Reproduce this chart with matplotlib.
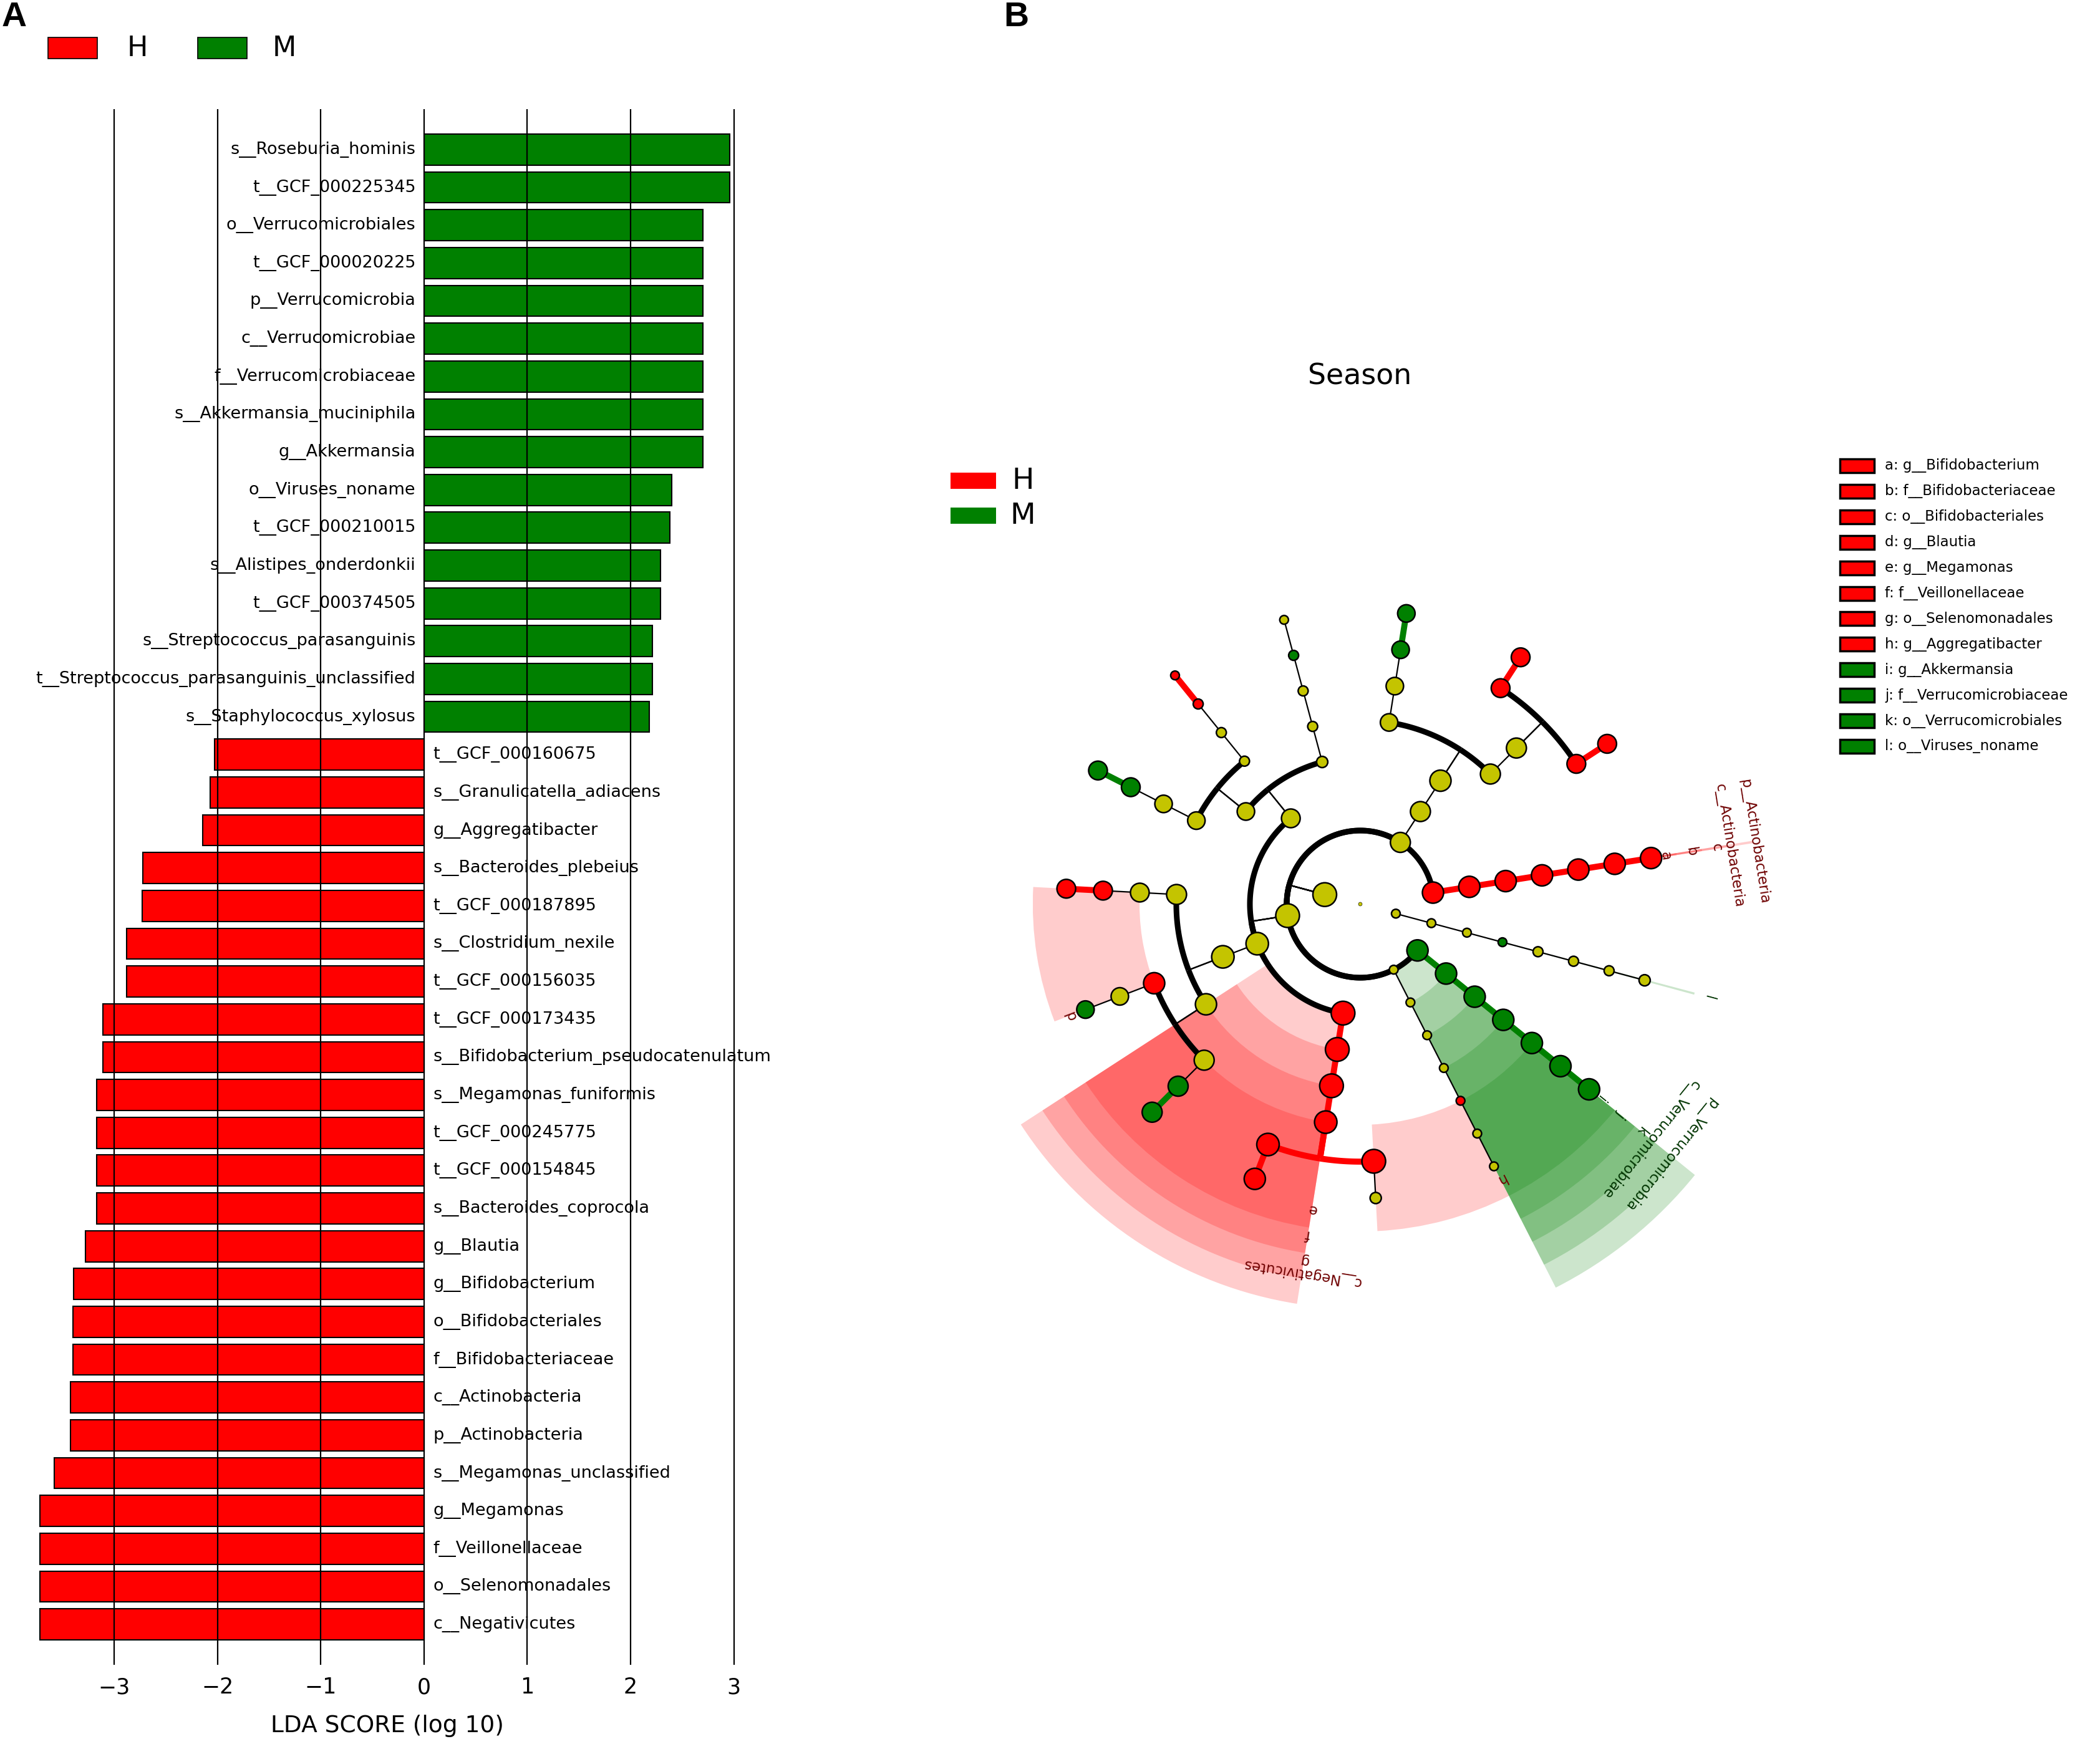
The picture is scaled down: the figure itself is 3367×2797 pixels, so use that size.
import numpy as np
import matplotlib.pyplot as plt
from matplotlib.patches import Rectangle

# ---------------- panel A : LDA scores ----------------
taxa = [
    's__Roseburia_hominis', 't__GCF_000225345', 'o__Verrucomicrobiales', 't__GCF_000020225',
    'p__Verrucomicrobia', 'c__Verrucomicrobiae', 'f__Verrucomicrobiaceae', 's__Akkermansia_muciniphila',
    'g__Akkermansia', 'o__Viruses_noname', 't__GCF_000210015', 's__Alistipes_onderdonkii',
    't__GCF_000374505', 's__Streptococcus_parasanguinis', 't__Streptococcus_parasanguinis_unclassified',
    's__Staphylococcus_xylosus',
    't__GCF_000160675', 's__Granulicatella_adiacens', 'g__Aggregatibacter', 's__Bacteroides_plebeius',
    't__GCF_000187895', 's__Clostridium_nexile', 't__GCF_000156035', 't__GCF_000173435',
    's__Bifidobacterium_pseudocatenulatum', 's__Megamonas_funiformis', 't__GCF_000245775',
    't__GCF_000154845', 's__Bacteroides_coprocola', 'g__Blautia', 'g__Bifidobacterium',
    'o__Bifidobacteriales', 'f__Bifidobacteriaceae', 'c__Actinobacteria', 'p__Actinobacteria',
    's__Megamonas_unclassified', 'g__Megamonas', 'f__Veillonellaceae', 'o__Selenomonadales',
    'c__Negativicutes',
]
lda = [2.96, 2.96, 2.70, 2.70, 2.70, 2.70, 2.70, 2.70, 2.70, 2.40, 2.38, 2.29, 2.29, 2.21, 2.21, 2.18,
       -2.03, -2.07, -2.14, -2.72, -2.73, -2.88, -2.88, -3.11, -3.11, -3.17, -3.17, -3.17, -3.17,
       -3.28, -3.39, -3.40, -3.40, -3.42, -3.42, -3.58, -3.72, -3.72, -3.72, -3.72]
x_ticks = [-3, -2, -1, 0, 1, 2, 3]

# ---------------- panel B : cladogram ----------------
# parents are listed before their children, leaves in order around the circle
clade_names = [
    'root', 'k__Bacteria',
    'p__Actinobacteria', 'c__Actinobacteria', 'o__Bifidobacteriales', 'f__Bifidobacteriaceae',
    'g__Bifidobacterium', 's__Bifidobacterium_pseudocatenulatum', 't__GCF_000173435',
    'p__Bacteroidetes', 'c__Bacteroidia', 'o__Bacteroidales', 'f__Bacteroidaceae', 'g__Bacteroides',
    's__Bacteroides_plebeius', 't__GCF_000187895', 's__Bacteroides_coprocola', 't__GCF_000154845',
    'f__Rikenellaceae', 'g__Alistipes', 's__Alistipes_onderdonkii', 't__GCF_000374505',
    'p__Firmicutes', 'c__Bacilli', 'o__Bacillales', 'f__Staphylococcaceae', 'g__Staphylococcus',
    's__Staphylococcus_xylosus', 't__Staphylococcus_xylosus_unclassified',
    'o__Lactobacillales', 'f__Carnobacteriaceae', 'g__Granulicatella', 's__Granulicatella_adiacens',
    't__GCF_000160675', 'f__Streptococcaceae', 'g__Streptococcus', 's__Streptococcus_parasanguinis',
    't__Streptococcus_parasanguinis_unclassified',
    'c__Clostridia', 'o__Clostridiales', 'f__Clostridiaceae', 'g__Clostridium', 's__Clostridium_nexile',
    't__GCF_000156035', 'f__Lachnospiraceae', 'g__Blautia', 's__Blautia_unclassified',
    't__GCF_000210015', 'g__Roseburia', 's__Roseburia_hominis', 't__GCF_000225345',
    'c__Negativicutes', 'o__Selenomonadales', 'f__Veillonellaceae', 'g__Megamonas',
    's__Megamonas_funiformis', 't__GCF_000245775', 's__Megamonas_unclassified',
    't__Megamonas_unclassified',
    'p__Proteobacteria', 'c__Gammaproteobacteria', 'o__Pasteurellales', 'f__Pasteurellaceae',
    'g__Aggregatibacter', 's__Aggregatibacter_unclassified', 't__Aggregatibacter_unclassified',
    'p__Verrucomicrobia', 'c__Verrucomicrobiae', 'o__Verrucomicrobiales', 'f__Verrucomicrobiaceae',
    'g__Akkermansia', 's__Akkermansia_muciniphila', 't__GCF_000020225',
    'k__Viruses', 'p__Viruses_noname', 'c__Viruses_noname', 'o__Viruses_noname', 'f__Viruses_noname',
    'g__Viruses_noname', 's__Viruses_noname_sp', 't__Viruses_noname_sp',
]
clade_parents = [
    None, 'root',
    'k__Bacteria', 'p__Actinobacteria', 'c__Actinobacteria', 'o__Bifidobacteriales',
    'f__Bifidobacteriaceae', 'g__Bifidobacterium', 's__Bifidobacterium_pseudocatenulatum',
    'k__Bacteria', 'p__Bacteroidetes', 'c__Bacteroidia', 'o__Bacteroidales', 'f__Bacteroidaceae',
    'g__Bacteroides', 's__Bacteroides_plebeius', 'g__Bacteroides', 's__Bacteroides_coprocola',
    'o__Bacteroidales', 'f__Rikenellaceae', 'g__Alistipes', 's__Alistipes_onderdonkii',
    'k__Bacteria', 'p__Firmicutes', 'c__Bacilli', 'o__Bacillales', 'f__Staphylococcaceae',
    'g__Staphylococcus', 's__Staphylococcus_xylosus',
    'c__Bacilli', 'o__Lactobacillales', 'f__Carnobacteriaceae', 'g__Granulicatella',
    's__Granulicatella_adiacens', 'o__Lactobacillales', 'f__Streptococcaceae', 'g__Streptococcus',
    's__Streptococcus_parasanguinis',
    'p__Firmicutes', 'c__Clostridia', 'o__Clostridiales', 'f__Clostridiaceae', 'g__Clostridium',
    's__Clostridium_nexile', 'o__Clostridiales', 'f__Lachnospiraceae', 'g__Blautia',
    's__Blautia_unclassified', 'f__Lachnospiraceae', 'g__Roseburia', 's__Roseburia_hominis',
    'p__Firmicutes', 'c__Negativicutes', 'o__Selenomonadales', 'f__Veillonellaceae',
    'g__Megamonas', 's__Megamonas_funiformis', 'g__Megamonas', 's__Megamonas_unclassified',
    'k__Bacteria', 'p__Proteobacteria', 'c__Gammaproteobacteria', 'o__Pasteurellales',
    'f__Pasteurellaceae', 'g__Aggregatibacter', 's__Aggregatibacter_unclassified',
    'k__Bacteria', 'p__Verrucomicrobia', 'c__Verrucomicrobiae', 'o__Verrucomicrobiales',
    'f__Verrucomicrobiaceae', 'g__Akkermansia', 's__Akkermansia_muciniphila',
    'root', 'k__Viruses', 'p__Viruses_noname', 'c__Viruses_noname', 'o__Viruses_noname',
    'f__Viruses_noname', 'g__Viruses_noname', 's__Viruses_noname_sp',
]
# enriched group of each clade ('' = not significant)
clade_groups = [
    '', '',
    'H', 'H', 'H', 'H', 'H', 'H', 'H',
    '', '', '', '', '', 'H', 'H', 'H', 'H', '', '', 'M', 'M',
    '', '', '', '', '', 'M', '', '', '', '', 'H', 'H', '', '', 'M', 'M',
    '', '', '', '', 'H', 'H', '', 'H', '', 'M', '', 'M', 'M',
    'H', 'H', 'H', 'H', 'H', 'H', 'H', '',
    '', '', '', '', 'H', '', '',
    'M', 'M', 'M', 'M', 'M', 'M', 'M',
    '', '', '', 'M', '', '', '', '',
]
# node size (abundance), read from the circles
clade_sizes = [
    3, 19,
    17, 17, 17, 17, 17, 17, 17,
    16, 16, 17, 16, 16, 15, 15, 15, 15, 14, 14, 14, 14,
    19, 15, 9, 8, 8, 8, 7, 14, 8, 8, 8, 7, 14, 14, 15, 15,
    18, 18, 16, 15, 15, 15, 17, 17, 14, 14, 16, 16, 16,
    19, 19, 19, 18, 18, 17, 19, 9,
    7, 7, 7, 7, 7, 7, 7,
    17, 17, 17, 17, 17, 17, 17,
    7, 7, 7, 7, 8, 8, 8, 9,
]
key_letters = ['a', 'b', 'c', 'd', 'e', 'f', 'g', 'h', 'i', 'j', 'k', 'l']
key_clades = ['g__Bifidobacterium', 'f__Bifidobacteriaceae', 'o__Bifidobacteriales', 'g__Blautia',
              'g__Megamonas', 'f__Veillonellaceae', 'o__Selenomonadales', 'g__Aggregatibacter',
              'g__Akkermansia', 'f__Verrucomicrobiaceae', 'o__Verrucomicrobiales', 'o__Viruses_noname']

colors = {'H': '#ff0000', 'M': '#008000'}
label_colors = {'H': '#6e0000', 'M': '#003300'}
node_yellow = '#c4c400'

W, H = 3367, 2797
fig = plt.figure(figsize=(W / 100, H / 100), dpi=100)


def fx(px):
    return px / W


def fy(py):
    return 1 - py / H


# ---- A ----
top, bottom = 175, 2670
ax = fig.add_axes([fx(62), fy(bottom), fx(1180 - 62), (bottom - top) / H])
ypos = np.arange(len(taxa))
bar_colors = [colors['M'] if v > 0 else colors['H'] for v in lda]
ax.barh(ypos, lda, height=0.82, color=bar_colors, edgecolor='black', linewidth=1.5, zorder=2)
for xv in x_ticks:
    ax.axvline(xv, color='black', lw=1.6, zorder=3)
for yi, (name, v) in enumerate(zip(taxa, lda)):
    if v > 0:
        ax.text(-0.08, yi, name, ha='right', va='center', fontsize=19.5, zorder=2.5)
    else:
        ax.text(0.09, yi, name, ha='left', va='center', fontsize=19.5, zorder=2.5)
ax.set_ylim(len(taxa) - 1 + 1.07, -1.07)
ax.set_xlim(-3.73, 3.02)
ax.set_xticks(x_ticks)
ax.set_yticks([])
ax.tick_params(axis='x', length=0, pad=14, labelsize=25)
for s in ax.spines.values():
    s.set_visible(False)
ax.set_xlabel('LDA SCORE (log 10)', fontsize=27, labelpad=19)

fig.text(fx(23), fy(28), 'A', fontsize=40, fontweight='bold', family='Liberation Sans',
         ha='center', va='center')
fig.text(fx(1629), fy(28), 'B', fontsize=40, fontweight='bold', family='Liberation Sans',
         ha='center', va='center')

# legend of panel A
for g, x0, xt in [('H', 77, 220), ('M', 317, 456)]:
    fig.add_artist(Rectangle((fx(x0), fy(94)), fx(79), 34 / H, transform=fig.transFigure,
                             facecolor=colors[g], edgecolor='black', lw=1.2))
    fig.text(fx(xt), fy(78), g, fontsize=32, ha='center', va='center')

# ---- B ----
fig.text(fx(2180), fy(604), 'Season', fontsize=33, ha='center', va='center')
for g, yc in [('H', 771), ('M', 827)]:
    fig.add_artist(Rectangle((fx(1524), fy(yc + 13)), fx(73), 26 / H, transform=fig.transFigure,
                             facecolor=colors[g], edgecolor='none'))
    fig.text(fx(1640), fy(yc), g, fontsize=34, ha='center', va='center')

group = dict(zip(clade_names, clade_groups))
children = {n: [] for n in clade_names}
level = {}
for n, p in zip(clade_names, clade_parents):
    level[n] = 0 if p is None else level[p] + 1
    if p is not None:
        children[p].append(n)


def leaves_under(n):
    if not children[n]:
        return [n]
    out = []
    for c in children[n]:
        out += leaves_under(c)
    return out


leaves = leaves_under('root')
leaf_step = 360.0 / len(leaves)
first_leaf = 9.0
leaf_angle = {n: first_leaf + i * leaf_step for i, n in enumerate(leaves)}
angle = {n: np.mean([leaf_angle[l] for l in leaves_under(n)]) for n in clade_names}

R_MAX = 12.5
STEP = 59.0
cx, cy = 2181, 1450
rpx = R_MAX * STEP
pax = fig.add_axes([fx(cx - rpx), fy(cy + rpx), 2 * rpx / W, 2 * rpx / H], projection='polar')
pax.set_ylim(0, R_MAX)
pax.axis('off')

# highlighted clades
for n in clade_names:
    g, L = group[n], level[n]
    if not g or not 2 <= L <= 6:
        continue
    lv = leaves_under(n)
    if lv[0] == leaves[0] or lv[-1] == leaves[-1]:
        # clades at the ends of the leaf order come out as thin slivers
        width = 0.35
        start = angle[n] - width / 2
        outer = 12.2 - 0.7 * L
    else:
        width = len(lv) * leaf_step
        start = angle[n] - width
        outer = 13.1 - 0.7 * L
    pax.bar(np.radians(start), outer - L, width=np.radians(width), bottom=L, align='edge',
            color=colors[g], alpha=0.2, linewidth=0, zorder=1)
    if L <= 3:
        lab, off = n, 0.85
    else:
        lab, off = key_letters[key_clades.index(n)], 0.5
    lab_r = 13.1 - 0.7 * L - off
    pax.text(np.radians(angle[n]), lab_r, lab, rotation=angle[n] - 90, rotation_mode='anchor',
             ha='center', va='center', fontsize=16.5, color=label_colors[g], zorder=2)

# branches
for n, p in zip(clade_names, clade_parents):
    if p is None or level[p] == 0:
        continue
    tp, tc = np.radians(angle[p]), np.radians(angle[n])
    rp, rc = level[p], level[n]
    if group[n] and group[n] == group[p]:
        col, lw_r, lw_a = colors[group[n]], 7, 7
    else:
        col, lw_r, lw_a = 'black', 1.6, 6.5
    pax.plot([tp, tp], [rp, rc], color=col, lw=lw_r, solid_capstyle='butt', zorder=3)
    if abs(tc - tp) > 1e-9:
        th = np.linspace(tp, tc, 80)
        pax.plot(th, np.full_like(th, rc), color=col, lw=lw_a, solid_capstyle='butt', zorder=3)

# nodes
th = np.radians([angle[n] for n in clade_names])
rr = [level[n] for n in clade_names]
fc = [colors[group[n]] if group[n] else node_yellow for n in clade_names]
sz = (2 * np.array(clade_sizes) * 0.72) ** 2
lws = [0.4 if level[n] == 0 else 1.8 for n in clade_names]
pax.scatter(th, rr, s=sz, c=fc, edgecolors='black', linewidths=lws, zorder=4, clip_on=False)

# key of lettered clades
for i, (letter, cl) in enumerate(zip(key_letters, key_clades)):
    yc = 747 + 40.9 * i
    fig.add_artist(Rectangle((fx(2950), fy(yc + 11)), fx(55), 22 / H, transform=fig.transFigure,
                             facecolor=colors[group[cl]], edgecolor='black', lw=2.5))
    fig.text(fx(3022), fy(yc), f'{letter}: {cl}', fontsize=16.5, ha='left', va='center')

fig.savefig('out.png', dpi=100)
